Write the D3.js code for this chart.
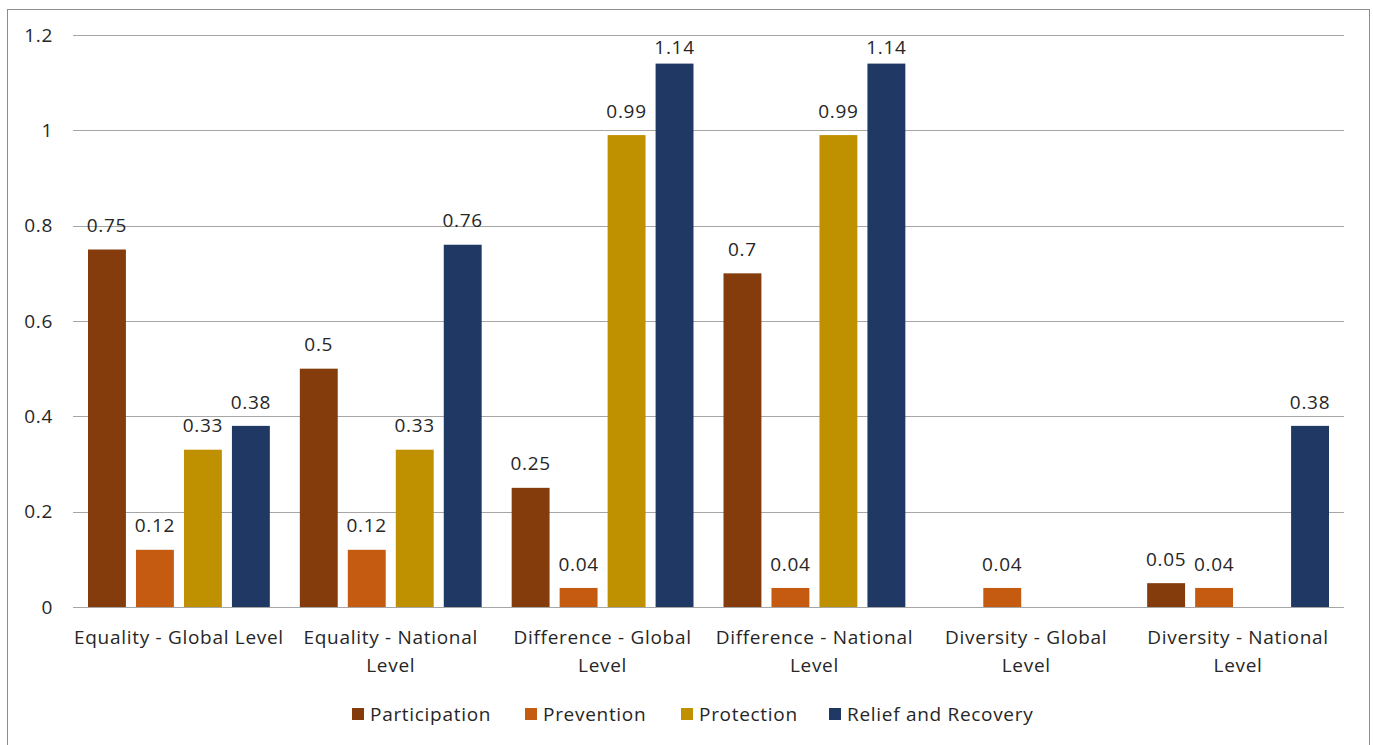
<!DOCTYPE html>
<html>
<head>
<meta charset="utf-8">
<script src="https://cdn.jsdelivr.net/npm/d3@7"></script>
<style>
  html, body { margin: 0; padding: 0; background: #fff; }
  svg { display: block; font-family: "Open Sans", Lato, sans-serif; }
  svg text { letter-spacing: 0.7px; }
</style>
</head>
<body>
<svg id="chart" width="1373" height="745"></svg>
<script>
// Category labels (each split into its display lines)
const categories = [
  "Equality - Global Level",
  "Equality - National Level",
  "Difference - Global Level",
  "Difference - National Level",
  "Diversity - Global Level",
  "Diversity - National Level"
];
const categoryLines = [
  ["Equality - Global Level"],
  ["Equality - National", "Level"],
  ["Difference - Global", "Level"],
  ["Difference - National", "Level"],
  ["Diversity - Global", "Level"],
  ["Diversity - National", "Level"]
];
const seriesNames = ["Participation", "Prevention", "Protection", "Relief and Recovery"];
const seriesColors = ["#843C0C", "#C55A11", "#BF9000", "#203864"];

// Values per series, in category order
const participation = [0.75, 0.5, 0.25, 0.7, 0, 0.05];
const prevention    = [0.12, 0.12, 0.04, 0.04, 0.04, 0.04];
const protection    = [0.33, 0.33, 0.99, 0.99, 0, 0];
const relief        = [0.38, 0.76, 1.14, 1.14, 0, 0.38];
const seriesValues = [participation, prevention, protection, relief];

const yTicks = [0, 0.2, 0.4, 0.6, 0.8, 1, 1.2];

const svg = d3.select("#chart");
const plot = { left: 73, right: 1344, top: 35, bottom: 607 };
const textColor = "#262626";
const fontSize = 19;

// Outer frame
svg.append("rect")
  .attr("x", 7.5).attr("y", 9.5)
  .attr("width", 1362).attr("height", 745)
  .attr("fill", "#fff").attr("stroke", "#8c8c8c").attr("stroke-width", 1);

const x0 = d3.scaleBand().domain(categories).range([plot.left, plot.right]);
const x1 = d3.scaleBand().domain(seriesNames).range([15, x0.bandwidth() - 15]).paddingInner(0.21);
const y = d3.scaleLinear().domain([0, 1.2]).range([plot.bottom, plot.top]);

// Gridlines
svg.append("g").selectAll("line").data(yTicks).join("line")
  .attr("x1", plot.left).attr("x2", plot.right)
  .attr("y1", d => Math.round(y(d)) + 0.5).attr("y2", d => Math.round(y(d)) + 0.5)
  .attr("stroke", "#a6a6a6").attr("stroke-width", 1);

// Y tick labels
svg.append("g").selectAll("text").data(yTicks).join("text")
  .attr("x", 53).attr("y", d => y(d))
  .attr("dy", "0.35em")
  .attr("text-anchor", "end")
  .attr("font-size", fontSize).attr("fill", textColor)
  .text(d => d3.format("~g")(d));

// Bars with value labels above them
const groups = svg.append("g").selectAll("g").data(categories).join("g")
  .attr("transform", d => `translate(${x0(d)},0)`);

groups.each(function(cat, ci) {
  const g = d3.select(this);
  seriesNames.forEach((s, si) => {
    const v = seriesValues[si][ci];
    if (v <= 0) return;
    g.append("rect")
      .attr("x", x1(s)).attr("width", x1.bandwidth())
      .attr("y", y(v)).attr("height", y(0) - y(v))
      .attr("fill", seriesColors[si]);
    g.append("text")
      .attr("x", x1(s) + x1.bandwidth() / 2)
      .attr("y", Math.max(y(v) - 24, plot.top + 12))
      .attr("dy", "0.35em")
      .attr("text-anchor", "middle")
      .attr("font-size", fontSize).attr("fill", textColor)
      .text(d3.format("~g")(v));
  });
});

// Category labels
svg.append("g").selectAll("text").data(categories).join("text")
  .attr("x", d => x0(d) + x0.bandwidth() / 2)
  .attr("y", 644)
  .attr("text-anchor", "middle")
  .attr("font-size", fontSize).attr("fill", textColor)
  .each(function(d, i) {
    const t = d3.select(this);
    categoryLines[i].forEach((line, li) => {
      t.append("tspan").attr("x", x0(d) + x0.bandwidth() / 2)
        .attr("dy", li === 0 ? 0 : 28).text(line);
    });
  });

// Legend
const legendX = [352, 525, 681, 829];
const legend = svg.append("g").selectAll("g").data(seriesNames).join("g")
  .attr("transform", (d, i) => `translate(${legendX[i]},714)`);
legend.append("rect").attr("x", 0).attr("y", -6).attr("width", 12).attr("height", 12)
  .attr("fill", (d, i) => seriesColors[i]);
legend.append("text").attr("x", 18).attr("y", 0).attr("dy", "0.35em")
  .attr("font-size", fontSize).attr("fill", textColor).text(d => d);
</script>
</body>
</html>
